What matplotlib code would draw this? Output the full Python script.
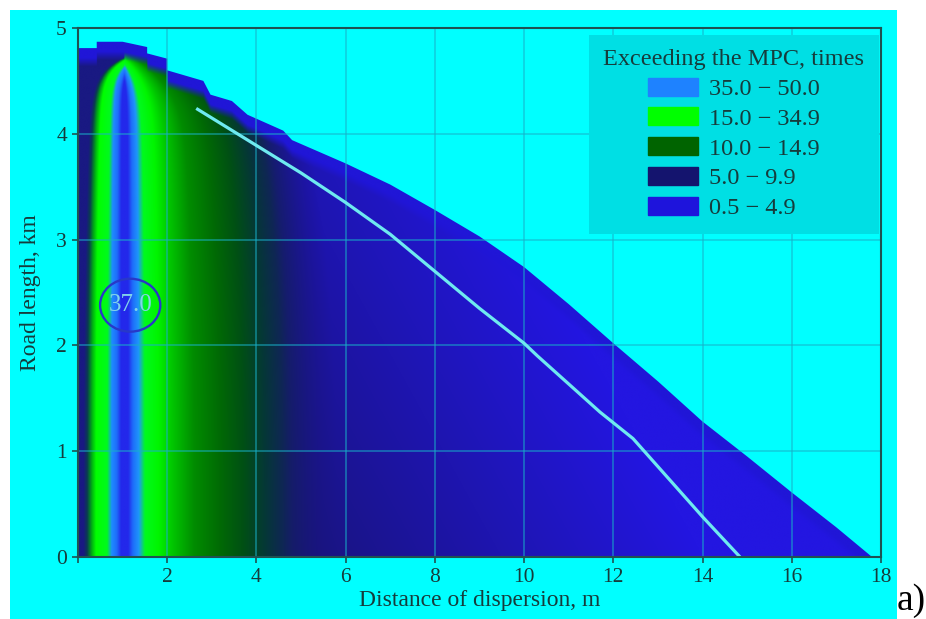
import numpy as np
import matplotlib
matplotlib.use('Agg')
import matplotlib.pyplot as plt
from matplotlib.patches import Patch, Polygon, Ellipse, Rectangle

# ---------------- data ----------------
legend_title = 'Exceeding the MPC, times'
legend_labels = ['35.0 − 50.0', '15.0 − 34.9', '10.0 − 14.9', '5.0 − 9.9', '0.5 − 4.9']
legend_colors = ['#1e82ff', '#00ff00', '#006400', '#14146e', '#1e14dc']

x_ticks = [0, 2, 4, 6, 8, 10, 12, 14, 16, 18]
x_ticklabels = ['', '2', '4', '6', '8', '10', '12', '14', '16', '18']
y_ticks = [0, 1, 2, 3, 4, 5]

# upper edge of the dispersion zone (km) vs distance (m)
boundary_x = [0.0, 0.42, 0.42, 1.0, 1.55, 1.55, 2.0, 2.0, 2.81, 2.97, 3.45, 3.8, 4.6, 4.8,
              6.0, 7.0, 8.0, 9.0, 10.0, 11.0, 12.0, 13.0, 14.0, 15.0, 16.0, 17.0, 17.8]
boundary_y = [4.81, 4.81, 4.87, 4.87, 4.82, 4.76, 4.71, 4.60, 4.50, 4.37, 4.31, 4.18, 4.03, 3.94,
              3.72, 3.52, 3.28, 3.03, 2.74, 2.39, 2.02, 1.66, 1.28, 0.95, 0.61, 0.28, 0.0]

# cyan isoline
iso_x = [2.65, 5.0, 6.0, 7.0, 8.0, 9.0, 10.0, 10.3, 11.7, 12.44, 14.0, 14.84]
iso_y = [4.24, 3.63, 3.35, 3.05, 2.70, 2.35, 2.02, 1.90, 1.37, 1.12, 0.38, 0.0]

# peak annotation
peak_x, peak_y, peak_label = 1.17, 2.38, '37.0'

# colour profile across the distance axis (near field)
profile_x = [-1.0, 0.12, 0.2, 0.3, 0.4, 0.65, 0.75, 0.86, 0.96, 1.12, 1.23, 1.36, 1.5,
             1.8, 2.1, 2.6, 3.2, 3.7, 4.2, 4.8, 5.5, 20.0]
profile_rgb = [(25, 25, 130), (25, 25, 130), (10, 60, 80), (0, 170, 20), (0, 255, 0),
               (0, 250, 30), (30, 140, 255), (30, 110, 250), (35, 40, 235), (35, 40, 235),
               (30, 110, 250), (30, 150, 250), (0, 250, 30), (0, 245, 0), (0, 200, 0),
               (0, 140, 0), (0, 105, 5), (0, 80, 20), (5, 55, 55), (20, 30, 100),
               (25, 20, 125), (25, 20, 125)]
far_navy = (25, 20, 125)
far_blue = (35, 22, 225)
top_blue = (32, 22, 215)

# ---------------- figure ----------------
plt.rcParams['font.family'] = ['Liberation Serif', 'DejaVu Serif']
txt_col = '#163c3c'
spine_col = '#1f5252'

fig = plt.figure(figsize=(9.26, 6.19), dpi=100, facecolor='white')
fig.patches.append(Rectangle((10 / 926, 0), (897 - 10) / 926, (619 - 10) / 619,
                             transform=fig.transFigure, facecolor='#00ffff',
                             edgecolor='none', zorder=-10))
ax = fig.add_axes([78 / 926, 1 - 557 / 619, (881 - 78) / 926, (557 - 28) / 619])
ax.set_zorder(2)
ax.set_facecolor('#00ffff')
ax.set_xlim(0, 18)
ax.set_ylim(0, 5)

# field
nx, ny = 1400, 900
xs = np.linspace(0, 18, nx)
ys = np.linspace(0, 5, ny)
X, Y = np.meshgrid(xs, ys)
c0 = 1.03
d = np.abs(X - c0)
right = X >= c0
arch = np.exp((Y - 4.69) / 0.18)
grow = 1 + 0.25 * (Y / 4.8) ** 3 + np.where(right, 1.76, 0.6) * arch
tip = 0.6 * np.exp((Y - 4.69) / 0.09)
deff = d * grow + tip
xeff = c0 + np.where(right, 1.0, -1.0) * deff
prof = np.array(profile_rgb, dtype=float)
near = np.stack([np.interp(xeff, profile_x, prof[:, k]) for k in range(3)], axis=-1)
s = np.clip((X - 5 + 1.3 * Y) / 9, 0, 1)[..., None]
far = np.array(far_navy) + (np.array(far_blue) - np.array(far_navy)) * s
w_far = np.clip((xeff - 4.6) / 1.2, 0, 1)[..., None]
rgb = near * (1 - w_far) + far * w_far
ytop = np.interp(X, boundary_x, boundary_y)
tdist = ytop - Y
w_top = np.clip((0.17 - tdist) / 0.08, 0, 1)[..., None]
rgb = rgb * (1 - w_top) + np.array(top_blue) * w_top
rgb = np.clip(rgb / 255.0, 0, 1)

im = ax.imshow(rgb, extent=(0, 18, 0, 5), origin='lower', aspect='auto',
               interpolation='bilinear', zorder=1)
verts = [(0.0, 0.0)] + list(zip(boundary_x, boundary_y))
clip_poly = Polygon(verts, closed=True, transform=ax.transData, facecolor='none')
im.set_clip_path(clip_poly)

ax.plot(iso_x, iso_y, color='#6eeaf0', lw=2.3, zorder=3, solid_capstyle='butt')

ax.add_patch(Ellipse((peak_x, peak_y), 1.35, 0.5, facecolor='none',
                     edgecolor='#2838c8', lw=1.7, zorder=3))
ax.text(peak_x, peak_y, peak_label, ha='center', va='center', fontsize=18,
        color='#80d4ea', zorder=4)

# grid, ticks, spines
ax.set_axisbelow(False)
ax.set_xticks(x_ticks)
ax.set_xticklabels(x_ticklabels)
ax.set_yticks(y_ticks)
ax.grid(True, color='#18b0c8', alpha=0.65, lw=1.1)
ax.tick_params(direction='out', length=4, width=1.2, colors=spine_col,
               labelcolor=txt_col, labelsize=15.5, pad=4)
for sp in ax.spines.values():
    sp.set_color(spine_col)
    sp.set_linewidth(1.5)
    sp.set_zorder(6)

ax.set_xlabel('Distance of dispersion, m', fontsize=17, color=txt_col, labelpad=2)
ax.set_ylabel('Road length, km', fontsize=17, color=txt_col, labelpad=11)

handles = [Patch(facecolor=c, edgecolor=c) for c in legend_colors]
leg = ax.legend(handles, legend_labels, title=legend_title, loc='upper right',
                bbox_to_anchor=(0.9975, 0.987), borderaxespad=0, frameon=True,
                fancybox=False, facecolor='#00dfe4', edgecolor='none', framealpha=1,
                fontsize=17.5, title_fontsize=17.5, handlelength=2.06, handleheight=0.76,
                handletextpad=0.42, labelspacing=0.3, borderpad=0.6)
for t in leg.get_texts():
    t.set_color(txt_col)
leg.get_title().set_color(txt_col)
leg.set_zorder(5)

fig.text(897 / 926, 1 / 619, 'a)', fontsize=27, ha='left', va='bottom', color='black')

fig.savefig('out.png', dpi=100, facecolor='white')
